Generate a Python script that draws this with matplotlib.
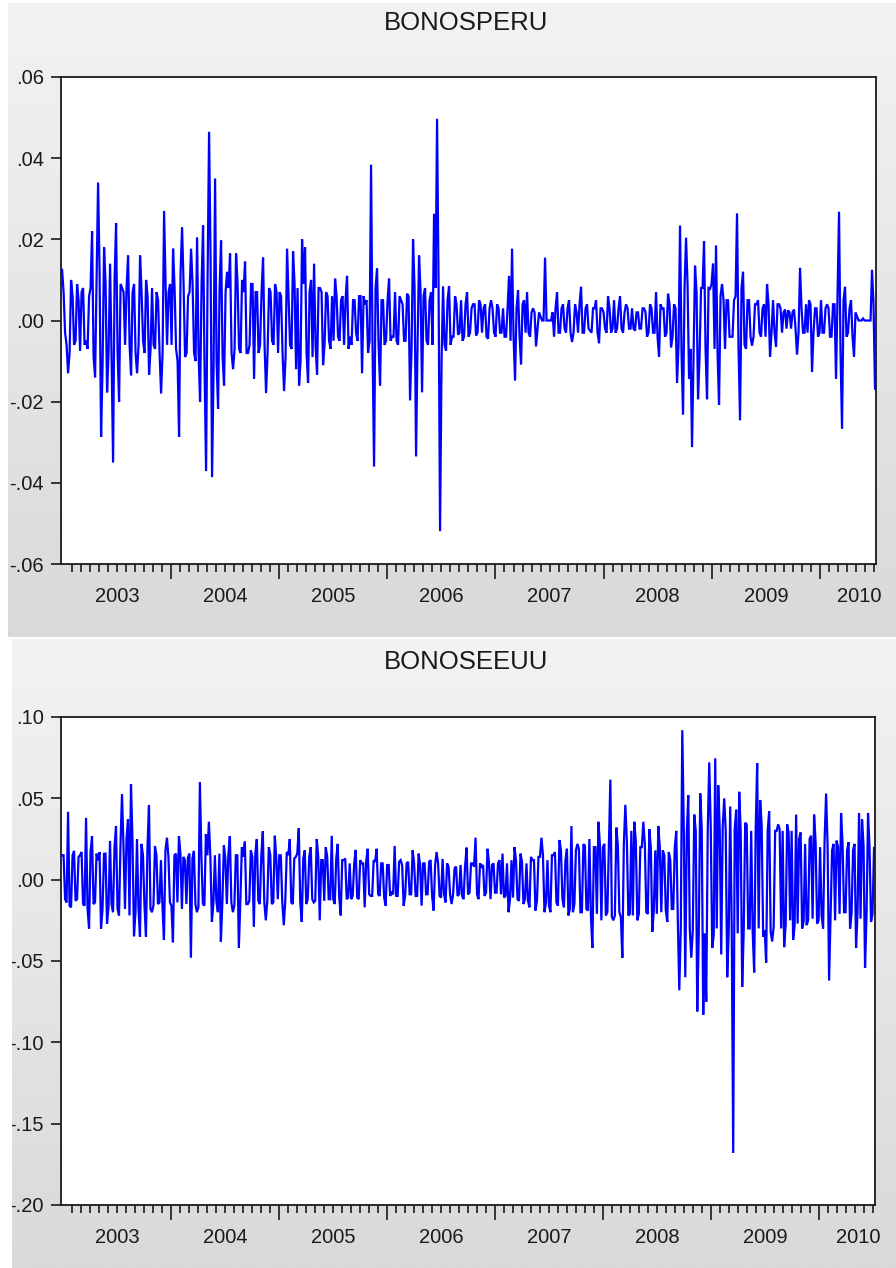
"""EViews-style daily return panels: BONOSPERU and BONOSEEUU."""
import matplotlib
matplotlib.use('Agg')
import matplotlib.pyplot as plt
import numpy as np
from matplotlib.patches import Rectangle
from matplotlib.colors import LinearSegmentedColormap
from matplotlib.ticker import FixedLocator, NullFormatter

plt.rcParams['font.family'] = ['Liberation Sans', 'DejaVu Sans']

# daily returns, in thousandths (x 0.001)
# *_pm: every other observation, *_mid_pm: the observations in between
peru_pm = [
    12.5, -3, -13, 10, -6, 9, -7.5, 8, -5, 6,
    22, -14, 34, -28.7, 18, -17.7, 14, -35, 24, -20,
    8, -6, 16, -13.5, 9, -13, 16, -5, 10, -13.3,
    8, -7, 5, -18, 27, -6, 9, 17.7, -7, -28.7,
    23, -9, 6, 17.7, -8, 20.5, -20, 23.4, -37.1, 46.5,
    -38.6, 35, -21.8, 19.7, -16, 12, 16.5, -12, 16.5, -7,
    10, 14.5, -8, 9, -14.4, 7, -6, 15.5, -17.9, 8,
    -5, 9, -8, 6, -17.4, 17.7, -6, 17, -12, -16,
    20, 18, -15.4, 10, 14, -13.3, 8, -11, 7, -5,
    6, 10.3, -4, 5, -6, 11, -4, 5, -3, 6,
    -13, 4, -8, 38.4, -36, 12.8, -16, 5, -5, 10.3,
    -4, 7, -6, 5, -5, 6.6, -19.7, 20, -33.5, 16,
    -17.7, 8, -6, 7, 26.3, 49.7, -51.9, 8.4, -7.4, 8.5,
    -4, 6, -3.5, 5, -4, 7, -3, 4, -3.7, 5,
    -3, 4, -4.5, 5, -3, 4, -3, 3, -4, 11,
    17.7, -14.8, 7.5, -10.8, 5, 7, -4, 3, -6.4, 2,
    0, 15.5, 0, 0, -4, 7, -3, 4, -3, 5,
    -5.3, 4, -3, 8.3, -3, 4, -2.5, 3, 5, -5.6,
    3, -2, 6, -3, 5, -2, 6, -3, 4, -2,
    3, -2.5, 2, -2, 3, -4, 4, -3, 7, -8.9,
    3, -4, 6.6, -6.6, 4, -15.4, 23.4, -23.2, 20.4, -14.4,
    -31.2, 13.5, -19.4, 8, 19.5, -19.4, 7.8, 14, 18.5, -20.8,
    9, -7, 5, -4, 5, 26.4, -24.6, 12, -7, 5,
    -6.2, 4, 5, -4, 4, 9, -8.9, 5, -6.4, 4,
    -3, 2.7, 2.5, -2, 2.7, -8.4, 13, -3, 4, 5,
    -12.7, 3, -4, 5, -3, 4, -4, 4, -14.4, 26.8,
    -26.7, 8.3, -3, 5, -8.9, 1, 0, 0.5, 0, 0,
    12.5, -16.8,
]

peru_mid_pm = [
    7, -6, -8, 6, -5, 5, 7, -6, -7, 8,
    -9, 10, 12, -11, 9, -8, -9, 10, -8, 9,
    7, 8, -6, 7, -8, -6, 7, -8, 6, -7,
    -6, 7, -8, -8, 9, 7, -6, 8, -10, 12,
    9, -8, 7, 9, -10, -8, 9, -12, 10, 15,
    -12, -10, 8, -9, 7, 8, -8, -7, 9, -8,
    7, -8, -6, 9, 7, -8, 7, -6, -8, 7,
    -6, 7, 7, -8, -9, 6, -7, 9, 8, -10,
    9, -8, 7, -9, -6, 8, 7, -6, 6, -7,
    -5, 6, -5, 6, 5, -7, -6, 5, -5, 6,
    6, 5, -5, -7, 8, -6, 5, -6, 5, -5,
    -4, -5, 6, 4, -5, 6, -7, 8, -6, 7,
    6, -5, 5, -6, 8, 9, -10, -6, 5, -6,
    -4, 4, -3, -5, 4, -4, 3, 4, -3, 4,
    3, -4, 3, 3, -4, 3, -3, -4, 3, -5,
    -4, 3, -4, 4, -3, -3, 2, 2, -2, 1,
    0, 0, 0, 2, 3, -3, 3, -2, 3, -3,
    -3, 2, 4, -3, 3, -2, -3, 3, -3, 3,
    2, -3, 3, -2, -3, 3, -2, 2, 3, -2,
    -2, 2, -2, 3, 2, -3, 3, -3, -4, 4,
    3, -3, 4, -4, 3, -6, -8, 8, 9, -7,
    -8, 7, -9, 8, -7, 8, 9, -7, -8, 6,
    5, 5, -4, -4, 6, -7, 8, -6, 5, -4,
    -4, 4, -3, 3, -4, 4, -3, -3, 4, 3,
    2, -2, 2, 2, -2, -3, 3, -3, -3, 4,
    -3, 3, -3, -3, 3, 3, -4, 4, 6, -8,
    5, -4, 3, -4, 2, 0, 0, 0, 0, 0,
    4,
]

eeuu_pm = [
    15, -12, 41.7, -17, 17.7, -12, 15, -15, 38, -30,
    26.8, -14, 12, -30, 15.9, -27, 23.8, -20, 33, -22,
    52.6, -18, 37.2, 58.7, -34.8, 25, -35, 15, -35, 45.7,
    -20, 20.7, -15, 12, -37, 25.8, -14, -38.5, 16, 26.8,
    -18, 12, 13.6, -48, 17.7, -20, 60, -15, 28, 35.6,
    -26, 15, -20, -38, 21, -15, 26.8, -20, 15, -42,
    20, 23.4, -15, 18, -29, 25, -15, 29.7, -25, 20,
    -15, 27, -12, 15, -28, 17, 25, -15, 14, 31.6,
    -26, 18, -12, 20, -14, 25, -25, 12, 20, -12,
    27, -15, 22, -22, 12, -12, 10, -10, 18.3, -12,
    10, -17, 19, -10, 12, 19, -10, 10, -16, 9,
    -8, 20.7, -10, 12, -16, 10, -9, 18, -10, 16,
    -16, 10, -9, 12, -19, 17, -10, 12.8, -14, 8,
    -15, 7, -10, 9, -12, 19.7, -8, 10, 25.8, -12,
    8, -10, 19, -12, 10, -8, 12, 16, -10, -20,
    12, 20, -12, 16, -15, 10, -17, 12, -19, 14,
    25.8, -20, 12, -20, 15, -14, 24.4, -12, 12, -22,
    33, -15, 22, -20, 21.8, -18, 25, -42, 20, 35.6,
    -25, 22, -20, 61.5, -25, 32, -20, -48, 46, -22,
    30, 35.6, -25, 20, 35.6, -20, 31, -32, 18, 33,
    -20, 15, -26, 12, -18, 30, -68, 91.9, -60, 52,
    -48, 40, -81, 53, -83, -75, 72.1, -42, 74.6, 58,
    -46, 50, -60, 45, -168, 43, 54, -66, 35, -30,
    30, -57, 71.6, 49, -35, -51, 42, -38, 30, 34,
    -30, -41.5, 34, -25, -37, 40, 25, -30, 22, -25,
    27, 40, -27, 20, -30, 53, -62, 18, -25, 20,
    41, -20, 18, -30, 18, -42, 41, 37, -54, 41,
    -26, 19.5,
]

eeuu_mid_pm = [
    15, -14, -16, 15, -13, 14, 17, -16, -18, 17,
    -15, 16, 17, -18, 16, -17, -15, 20, -18, 22,
    20, 25, -22, 24, -20, -18, 22, -16, 20, -18,
    -16, 15, -14, -16, 18, 14, -16, 15, -14, 16,
    14, -15, 16, 13, -15, -17, 14, -16, 15, 14,
    -15, -13, 16, -14, 13, 15, -14, -16, 15, -13,
    14, -15, -13, 14, 16, -13, 15, -14, -13, 15,
    -14, 13, 15, -14, -13, 15, -14, 13, 16, -14,
    13, -15, 14, -12, -13, 14, 12, -13, 14, -12,
    -12, 13, -11, 12, 13, -11, -12, 10, -11, 12,
    10, 11, -9, -10, 11, -9, 10, -11, 9, -10,
    -9, -10, 11, 9, -10, 11, -9, 10, -10, 9,
    10, -9, 11, -10, 9, 10, -11, -9, 10, -9,
    -9, 8, -9, -10, 8, -9, 10, 8, -9, 10,
    9, -8, 10, 9, -8, 10, -9, -11, 10, -12,
    -11, 12, -13, 11, -12, -13, 14, 12, -13, 14,
    15, -14, -16, 15, 17, -16, 18, -17, 19, -18,
    -20, 18, 19, -20, 21, -19, -22, 20, -21, 22,
    20, -22, 21, -23, -22, 21, -23, 22, 24, -21,
    -22, 23, -21, 20, 22, -21, 20, -19, -21, 20,
    18, -19, 17, -18, 20, -24, -30, 32, 28, -30,
    -32, 30, -34, 31, -33, 30, 32, -34, -30, 31,
    33, 30, -32, -29, 31, -33, 30, -32, 34, -30,
    -32, 31, -30, 33, -31, 30, -32, -29, 30, 31,
    30, -28, 29, 30, -28, -27, 29, -26, -28, 25,
    -24, 23, -25, -22, 24, 21, -23, 22, 24, -21,
    22, -20, 23, -21, 22, -20, -24, 21, -22, 20,
    -21,
]

years = [2003, 2004, 2005, 2006, 2007, 2008, 2009, 2010]
year_label_pos = [2003.5, 2004.5, 2005.5, 2006.5, 2007.5, 2008.5, 2009.5, 2010.36]

peru_ticks = [-0.06, -0.04, -0.02, 0.0, 0.02, 0.04, 0.06]
peru_labels = ['-.06', '-.04', '-.02', '.00', '.02', '.04', '.06']
eeuu_ticks = [-0.20, -0.15, -0.10, -0.05, 0.0, 0.05, 0.10]
eeuu_labels = ['-.20', '-.15', '-.10', '-.05', '.00', '.05', '.10']

W, H = 896, 1268
first_obs, last_obs = 2002.993, 2010.509
x_min, x_max = 2002.983, 2010.518

blue = '#0000ff'
ink = '#1a1a1a'


def px_box(left, top, right, bottom):
    return [left / W, 1 - bottom / H, (right - left) / W, (bottom - top) / H]


def interleave(main, mid):
    out = np.empty(len(main) + len(mid))
    out[0::2] = main
    out[1::2] = mid
    return out / 1000.0


fig = plt.figure(figsize=(W / 100, H / 100), dpi=100)
fig.patch.set_facecolor('white')

grey_cmap = LinearSegmentedColormap.from_list('panel', ['#f3f3f3', '#d9d9d9'])


def panel_background(left, top, right, bottom):
    bg = fig.add_axes(px_box(left, top, right, bottom), zorder=-5)
    grad = np.linspace(0, 1, 256).reshape(-1, 1)
    bg.imshow(grad, aspect='auto', cmap=grey_cmap, extent=[0, 1, 0, 1],
              origin='upper', interpolation='bilinear')
    bg.axis('off')


def draw_panel(box, title, title_y, vals, ylim, yticks, ylabels):
    ax = fig.add_axes(px_box(*box))
    ax.set_facecolor('white')
    t = np.linspace(first_obs, last_obs, len(vals))
    ax.plot(t, vals, color=blue, lw=1.6, solid_joinstyle='miter')

    ax.set_xlim(x_min, x_max)
    ax.set_ylim(*ylim)
    ax.set_yticks(yticks)
    ax.set_yticklabels(ylabels)

    months = [y + m / 12 for y in years[:-1] for m in range(1, 12)]
    months += [2010 + m / 12 for m in range(1, 7)]
    ax.xaxis.set_major_locator(FixedLocator(years[1:]))
    ax.xaxis.set_major_formatter(NullFormatter())
    ax.xaxis.set_minor_locator(FixedLocator(months))

    ax.tick_params(axis='x', which='major', direction='out', length=11,
                   width=1.2, color=ink)
    ax.tick_params(axis='x', which='minor', direction='out', length=6,
                   width=1.2, color=ink)
    ax.tick_params(axis='y', direction='out', length=7.5, width=1.2,
                   color=ink, labelsize=14.5, labelcolor=ink, pad=5)
    for s in ax.spines.values():
        s.set_linewidth(1.3)
        s.set_color(ink)

    sec = ax.secondary_xaxis('bottom')
    sec.set_xticks(year_label_pos, [str(y) for y in years])
    sec.tick_params(length=0, pad=16.5, labelsize=14.5, labelcolor=ink)
    sec.spines['bottom'].set_visible(False)

    fig.text(466 / W, 1 - title_y / H, title, ha='center', va='center',
             fontsize=18.5, color=ink)
    return ax


# grey panels
panel_background(8, 3, 896, 637)
panel_background(12, 639, 896, 1268)

draw_panel((61, 77, 876, 564), 'BONOSPERU', 23,
           interleave(peru_pm, peru_mid_pm),
           (-0.06, 0.06), peru_ticks, peru_labels)
draw_panel((61, 717, 875, 1205), 'BONOSEEUU', 662,
           interleave(eeuu_pm, eeuu_mid_pm),
           (-0.20, 0.10), eeuu_ticks, eeuu_labels)

# white strip that clips the minus signs of the lower panel
fig.add_artist(Rectangle((0, 0), 12 / W, 1 - 639 / H, transform=fig.transFigure,
                         facecolor='white', edgecolor='none', zorder=20))

fig.savefig('out.png', dpi=100, facecolor='white')
plt.close(fig)
